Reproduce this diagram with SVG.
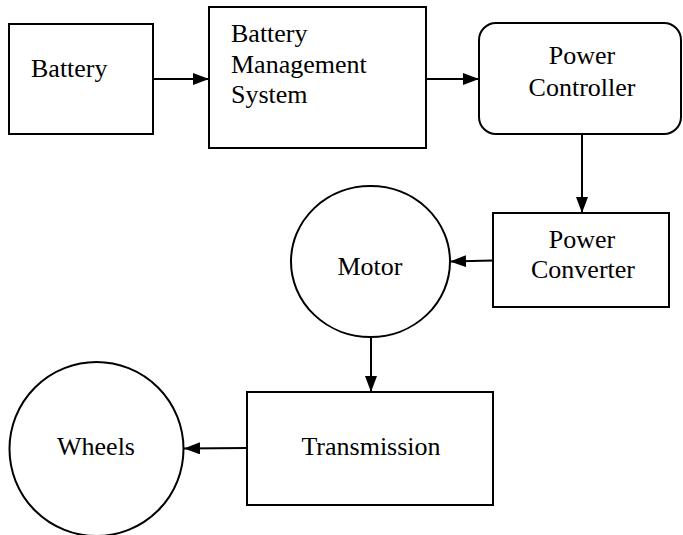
<svg xmlns="http://www.w3.org/2000/svg" width="683" height="535" viewBox="0 0 683 535">
<defs>
<marker id="arr" viewBox="0 0 16 12" refX="16" refY="6" markerWidth="16" markerHeight="12" markerUnits="userSpaceOnUse" orient="auto">
<path d="M0,0 L16,6 L0,12 Z" fill="#000"/>
</marker>
</defs>
<style>
.n{fill:#fff;stroke:#000;stroke-width:2}
.t{font-family:"Liberation Serif","Times New Roman",serif;font-size:26px;fill:#000}
.c{text-anchor:middle}
.e{fill:none;stroke:#000;stroke-width:2}
</style>
<rect width="683" height="535" fill="#fff"/>
<g id="battery">
<rect class="n" x="9" y="24" width="144" height="110"/>
<text class="t" x="31" y="77">Battery</text>
</g>
<g id="bms">
<rect class="n" x="209" y="7" width="217" height="141"/>
<text class="t" x="231" y="42">Battery</text>
<text class="t" x="231" y="72.5">Management</text>
<text class="t" x="231" y="103">System</text>
</g>
<g id="power-controller">
<rect class="n" x="479" y="23" width="202" height="111" rx="17" ry="17"/>
<text class="t c" x="582" y="64">Power</text>
<text class="t c" x="582" y="96">Controller</text>
</g>
<g id="power-converter">
<rect class="n" x="493" y="213" width="176" height="94"/>
<text class="t c" x="582" y="248">Power</text>
<text class="t c" x="583" y="278">Converter</text>
</g>
<g id="motor">
<ellipse class="n" cx="370.5" cy="261.5" rx="79.5" ry="75.5"/>
<text class="t c" x="370" y="275">Motor</text>
</g>
<g id="transmission">
<rect class="n" x="247" y="392" width="246" height="113"/>
<text class="t c" x="371" y="455">Transmission</text>
</g>
<g id="wheels">
<circle class="n" cx="96.5" cy="449" r="87"/>
<text class="t c" x="96" y="455">Wheels</text>
</g>
<g id="connectors">
<line class="e" x1="153" y1="79" x2="209" y2="79" marker-end="url(#arr)"/>
<line class="e" x1="426" y1="79" x2="479" y2="79" marker-end="url(#arr)"/>
<line class="e" x1="582" y1="134" x2="582" y2="213" marker-end="url(#arr)"/>
<line class="e" x1="493" y1="260.5" x2="450" y2="261.5" marker-end="url(#arr)"/>
<line class="e" x1="371" y1="337" x2="371" y2="392" marker-end="url(#arr)"/>
<line class="e" x1="247" y1="448" x2="184" y2="448.5" marker-end="url(#arr)"/>
</g>
</svg>
